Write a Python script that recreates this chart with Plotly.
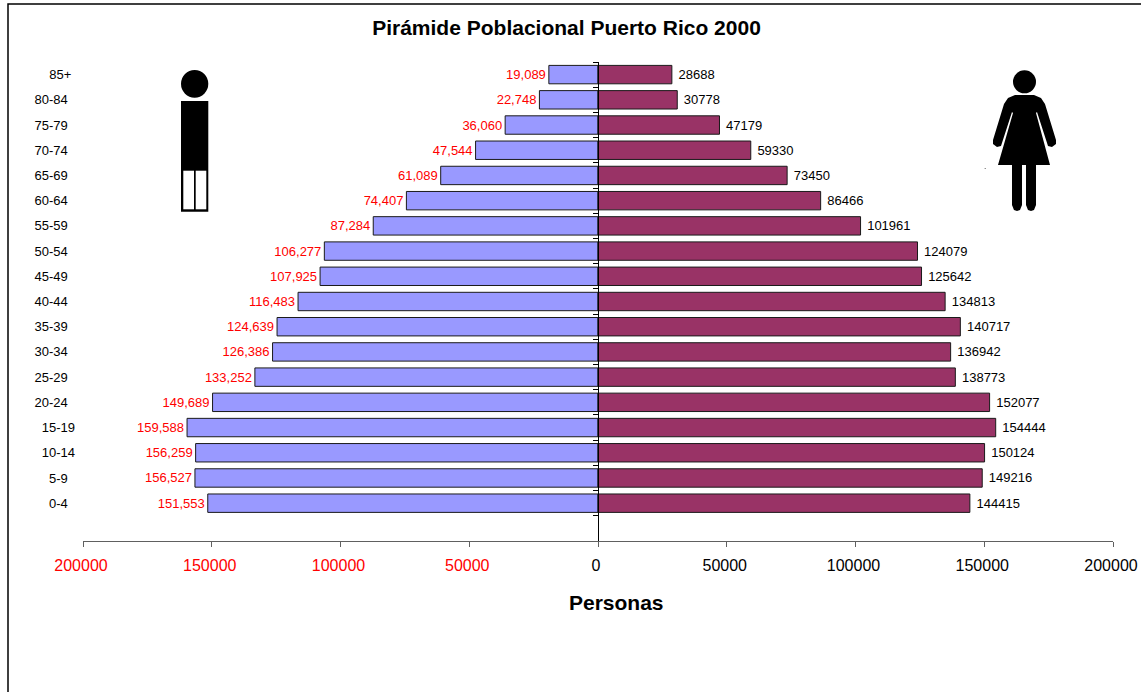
import plotly.graph_objects as go

W, H = 1141, 692
ages = ["0-4", "5-9", "10-14", "15-19", "20-24", "25-29", "30-34", "35-39", "40-44",
        "45-49", "50-54", "55-59", "60-64", "65-69", "70-74", "75-79", "80-84", "85+"]
age_pad = [2, 2, 0, 0, 2, 2, 2, 2, 2, 2, 2, 2, 2, 2, 2, 2, 2, 1]
men = [151553, 156527, 156259, 159588, 149689, 133252, 126386, 124639, 116483,
       107925, 106277, 87284, 74407, 61089, 47544, 36060, 22748, 19089]
women = [144415, 149216, 150124, 154444, 152077, 138773, 136942, 140717, 134813,
         125642, 124079, 101961, 86466, 73450, 59330, 47179, 30778, 28688]
left_ticks = [200000, 150000, 100000, 50000]
right_ticks = [0, 50000, 100000, 150000, 200000]

FONT = "Liberation Sans, Arial, sans-serif"
NB = "\u00a0"
px = lambda v: v / W
py = lambda v: 1 - v / H

def pth(points):
    return "M" + " L".join(f"{px(x):.5f},{py(y):.5f}" for x, y in points) + " Z"

OUTLINE = "#1a1a1a"
fig = go.Figure()
fig.add_bar(y=ages, x=[-v for v in men], orientation="h", name="Hombres",
            marker=dict(color="#9999FF", line=dict(color=OUTLINE, width=1)),
            text=[f"{v:,}" for v in men], textposition="outside",
            textfont=dict(color="#FF0000", size=13, family=FONT),
            cliponaxis=False, width=0.73, yaxis="y", showlegend=False)
fig.add_bar(y=ages, x=women, orientation="h", name="Mujeres",
            marker=dict(color="#993366", line=dict(color=OUTLINE, width=1)),
            text=[NB + str(v) for v in women], textposition="outside",
            textfont=dict(color="#000000", size=13, family=FONT),
            cliponaxis=False, width=0.73, yaxis="y2", showlegend=False)

tickvals = [-v for v in left_ticks] + right_ticks
ticktext = [f'<span style="color:#FF0000">{v}</span>' for v in left_ticks] + [str(v) for v in right_ticks]

def rect(x0, x1, y0, y1, color="#000000", **kw):
    return dict(type="rect", xref="paper", yref="paper", x0=px(x0), x1=px(x1), y0=py(y0), y1=py(y1),
                fillcolor=color, line=dict(width=0), **kw)

def blob(points):
    return dict(type="path", xref="paper", yref="paper", fillcolor="#000000", line=dict(width=0), path=pth(points))

shapes = [
    # chart frame: only its left and top edges fall inside the picture
    dict(type="rect", xref="paper", yref="paper", x0=px(8), x1=px(1160), y0=py(4), y1=py(710),
         line=dict(color="#000000", width=1.5), layer="below"),
    # man icon
    dict(type="circle", xref="paper", yref="paper", x0=px(181), x1=px(208.3), y0=py(70), y1=py(97.7),
         fillcolor="#000000", line=dict(width=0)),
    rect(181, 208.3, 101, 211.7),
    rect(183.3, 194, 170.7, 209.3, "#FFFFFF"),
    rect(195.7, 206.3, 170.7, 209.3, "#FFFFFF"),
    # woman icon
    dict(type="circle", xref="paper", yref="paper", x0=px(1013), x1=px(1036), y0=py(70.3), y1=py(93.3),
         fillcolor="#000000", line=dict(width=0)),
    blob([(1015, 95), (1034, 95), (1041, 98), (1045, 104), (1056, 140), (1056, 144), (1052, 147),
          (1048, 146), (1037, 112), (1036, 113), (1050, 165), (998, 165), (1013, 113),
          (1012, 112), (1001, 146), (997, 147), (993, 144), (993, 140), (1004, 104), (1008, 98)]),
    blob([(1012, 165), (1022, 165), (1022, 205), (1020, 210), (1017, 211), (1014, 210), (1012, 205)]),
    blob([(1026, 165), (1036, 165), (1036, 205), (1034, 210), (1031, 211), (1028, 210), (1026, 205)]),
    rect(984.7, 985.7, 168, 169, "#606060"),
]

fig.update_layout(
    width=W, height=H, margin=dict(l=0, r=0, t=0, b=0, autoexpand=False), autosize=False,
    paper_bgcolor="#FFFFFF", plot_bgcolor="#FFFFFF",
    barmode="overlay", showlegend=False, shapes=shapes,
    font=dict(family=FONT, color="#000000"),
    title=dict(text="<b>Pirámide Poblacional Puerto Rico 2000</b>", x=566.5 / W, xanchor="center",
               y=py(28), yanchor="middle", font=dict(size=21, family=FONT)),
    annotations=[dict(text="<b>Personas</b>", xref="paper", yref="paper", x=px(616.6), y=py(602),
                      xanchor="center", yanchor="middle", showarrow=False,
                      font=dict(size=21, family=FONT, color="#000000"))],
    xaxis=dict(domain=[px(83), px(1113)], range=[-200000, 200000], tickmode="array",
               tickvals=tickvals, ticktext=ticktext, ticks="outside", ticklen=5, tickcolor="#606060",
               tickfont=dict(size=16, family=FONT, color="#000000"), showgrid=False, zeroline=False,
               showline=True, linecolor="#606060", linewidth=1, automargin=False,
               ticklabelstandoff=5, ticklabelshift=-2),
    yaxis=dict(domain=[py(541), py(62)], type="category", categoryorder="array", categoryarray=ages,
               range=[-1.5, 17.5], showgrid=False, zeroline=False, showline=False, ticks="",
               tickmode="array", tickvals=ages, ticktext=[a + NB * n for a, n in zip(ages, age_pad)],
               tickfont=dict(size=13, family=FONT), ticklabelstandoff=7, automargin=False),
    yaxis2=dict(domain=[py(541), py(62)], type="category", categoryorder="array", categoryarray=ages,
                range=[-1.5, 17.5], overlaying="y", anchor="free", position=px(598), side="left",
                showgrid=False, zeroline=False, showline=True, linecolor="#000000", linewidth=1,
                ticks="outside", ticklen=5, tickcolor="#000000", tickson="boundaries",
                showticklabels=False, automargin=False),
)
fig.write_html("out.html", config={"displayModeBar": False},
               post_script="document.body.style.margin='0';")
